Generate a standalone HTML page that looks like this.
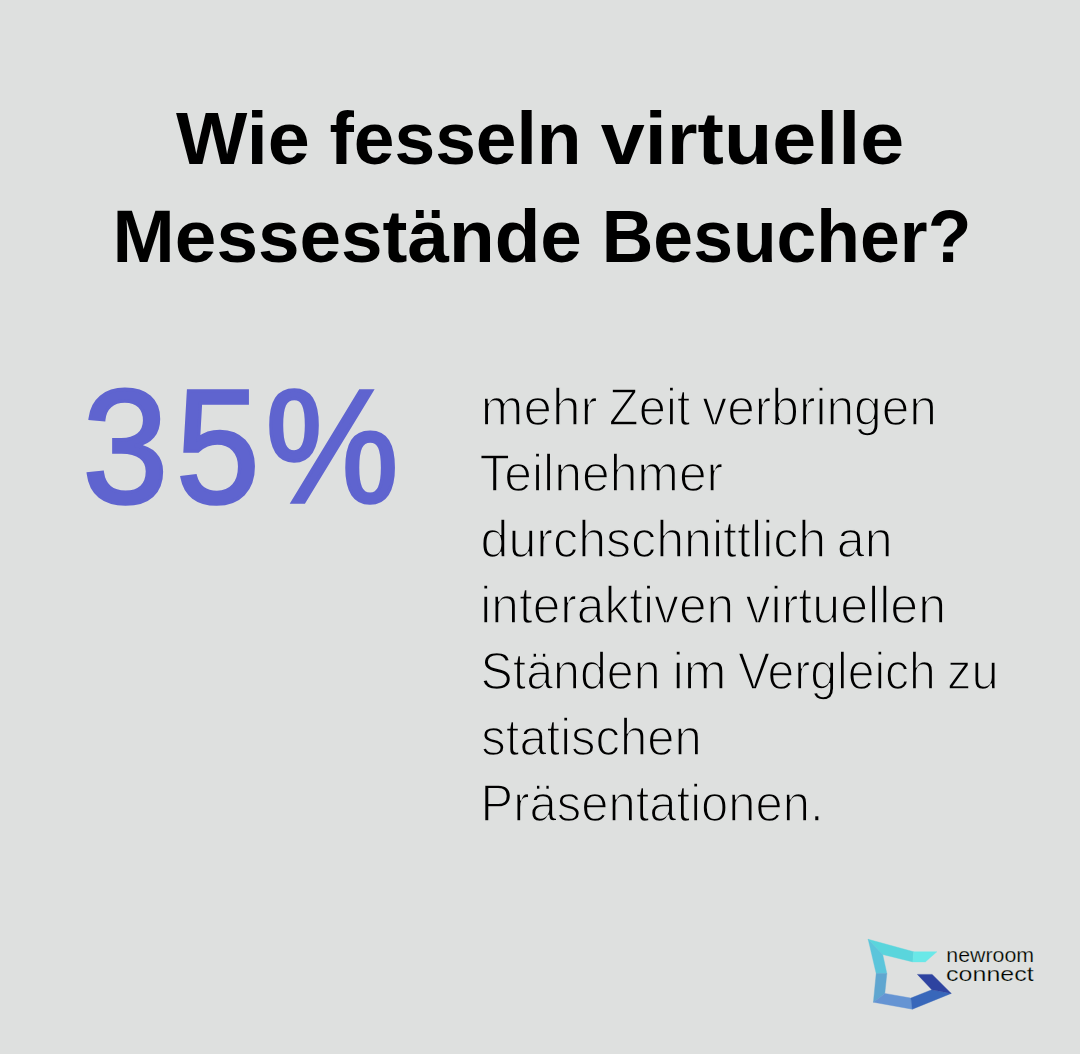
<!DOCTYPE html>
<html><head><meta charset="utf-8"><style>
html,body{margin:0;padding:0;background:#dee0df;}
body{width:1080px;height:1054px;overflow:hidden;}
svg{display:block;font-family:"Liberation Sans",sans-serif;}
</style></head><body>
<svg width="1080" height="1054" viewBox="0 0 1080 1054">
<rect width="1080" height="1054" fill="#dee0df"/>
<text x="176.03" y="164.10" font-size="75" font-weight="700" fill="#000" textLength="133.74" lengthAdjust="spacingAndGlyphs">Wie</text>
<text x="329.45" y="164.10" font-size="75" font-weight="700" fill="#000" textLength="252.09" lengthAdjust="spacingAndGlyphs">fesseln</text>
<text x="600.79" y="164.10" font-size="75" font-weight="700" fill="#000" textLength="303.41" lengthAdjust="spacingAndGlyphs">virtuelle</text>
<text x="112.60" y="262.00" font-size="75" font-weight="700" fill="#000" textLength="469.25" lengthAdjust="spacingAndGlyphs">Messestände</text>
<text x="601.72" y="262.00" font-size="75" font-weight="700" fill="#000" textLength="369.60" lengthAdjust="spacingAndGlyphs">Besucher?</text>
<text x="82.58" y="502.25" font-size="161.6" font-weight="400" fill="#5f64cf" stroke="#5f64cf" stroke-width="3.5" textLength="85.75" lengthAdjust="spacingAndGlyphs">3</text>
<text x="175.93" y="502.25" font-size="161.6" font-weight="400" fill="#5f64cf" stroke="#5f64cf" stroke-width="3.5" textLength="83.64" lengthAdjust="spacingAndGlyphs">5</text>
<text x="265.41" y="502.25" font-size="161.6" font-weight="400" fill="#5f64cf" stroke="#5f64cf" stroke-width="3.5" textLength="133.18" lengthAdjust="spacingAndGlyphs">%</text>
<text x="480.80" y="424.90" font-size="52" font-weight="400" fill="#000" stroke="#dee0df" stroke-width="1.6" textLength="116.75" lengthAdjust="spacingAndGlyphs">mehr</text>
<text x="608.85" y="424.90" font-size="52" font-weight="400" fill="#000" stroke="#dee0df" stroke-width="1.6" textLength="81.61" lengthAdjust="spacingAndGlyphs">Zeit</text>
<text x="702.33" y="424.90" font-size="52" font-weight="400" fill="#000" stroke="#dee0df" stroke-width="1.6" textLength="234.59" lengthAdjust="spacingAndGlyphs">verbringen</text>
<text x="479.41" y="490.90" font-size="52" font-weight="400" fill="#000" stroke="#dee0df" stroke-width="1.6" textLength="243.80" lengthAdjust="spacingAndGlyphs">Teilnehmer</text>
<text x="480.59" y="556.90" font-size="52" font-weight="400" fill="#000" stroke="#dee0df" stroke-width="1.6" textLength="345.66" lengthAdjust="spacingAndGlyphs">durchschnittlich</text>
<text x="836.77" y="556.90" font-size="52" font-weight="400" fill="#000" stroke="#dee0df" stroke-width="1.6" textLength="55.79" lengthAdjust="spacingAndGlyphs">an</text>
<text x="480.28" y="622.90" font-size="52" font-weight="400" fill="#000" stroke="#dee0df" stroke-width="1.6" textLength="253.84" lengthAdjust="spacingAndGlyphs">interaktiven</text>
<text x="745.43" y="622.90" font-size="52" font-weight="400" fill="#000" stroke="#dee0df" stroke-width="1.6" textLength="200.63" lengthAdjust="spacingAndGlyphs">virtuellen</text>
<text x="480.50" y="688.90" font-size="52" font-weight="400" fill="#000" stroke="#dee0df" stroke-width="1.6" textLength="180.14" lengthAdjust="spacingAndGlyphs">Ständen</text>
<text x="672.47" y="688.90" font-size="52" font-weight="400" fill="#000" stroke="#dee0df" stroke-width="1.6" textLength="54.11" lengthAdjust="spacingAndGlyphs">im</text>
<text x="737.99" y="688.90" font-size="52" font-weight="400" fill="#000" stroke="#dee0df" stroke-width="1.6" textLength="197.89" lengthAdjust="spacingAndGlyphs">Vergleich</text>
<text x="947.02" y="688.90" font-size="52" font-weight="400" fill="#000" stroke="#dee0df" stroke-width="1.6" textLength="51.63" lengthAdjust="spacingAndGlyphs">zu</text>
<text x="481.34" y="754.90" font-size="52" font-weight="400" fill="#000" stroke="#dee0df" stroke-width="1.6" textLength="220.34" lengthAdjust="spacingAndGlyphs">statischen</text>
<text x="480.58" y="820.90" font-size="52" font-weight="400" fill="#000" stroke="#dee0df" stroke-width="1.6" textLength="343.09" lengthAdjust="spacingAndGlyphs">Präsentationen.</text>
<text x="946.26" y="961.88" font-size="20.6" font-weight="400" fill="#000" stroke="#dee0df" stroke-width="0.25" textLength="87.88" lengthAdjust="spacingAndGlyphs">newroom</text>
<text x="946.11" y="980.83" font-size="20.3" font-weight="400" fill="#000" stroke="#dee0df" stroke-width="0.25" textLength="87.49" lengthAdjust="spacingAndGlyphs">connect</text>
<polygon points="868.15,939.26 913.70,951.76 912.80,961.90 882.70,954.50" fill="#5ad5dc" stroke="#5ad5dc" stroke-width="0.4" stroke-linejoin="round"/>
<polygon points="913.70,951.76 936.85,951.76 925.30,961.90 912.80,961.90" fill="#6ae8e8" stroke="#6ae8e8" stroke-width="0.4" stroke-linejoin="round"/>
<polygon points="868.15,939.26 882.70,954.50 886.85,973.50 876.20,973.50" fill="#5bc5db" stroke="#5bc5db" stroke-width="0.4" stroke-linejoin="round"/>
<polygon points="876.20,973.50 886.85,973.50 884.80,993.40 873.40,1002.20" fill="#5fa6d0" stroke="#5fa6d0" stroke-width="0.4" stroke-linejoin="round"/>
<polygon points="873.40,1002.20 884.80,993.40 910.90,998.10 912.30,1009.20" fill="#6594d3" stroke="#6594d3" stroke-width="0.4" stroke-linejoin="round"/>
<polygon points="912.30,1009.20 910.90,998.10 931.80,989.70 951.20,993.40" fill="#3867ba" stroke="#3867ba" stroke-width="0.4" stroke-linejoin="round"/>
<polygon points="917.40,974.40 932.20,974.40 951.20,993.40 931.80,989.70" fill="#2e43a0" stroke="#2e43a0" stroke-width="0.4" stroke-linejoin="round"/>
</svg>
</body></html>
